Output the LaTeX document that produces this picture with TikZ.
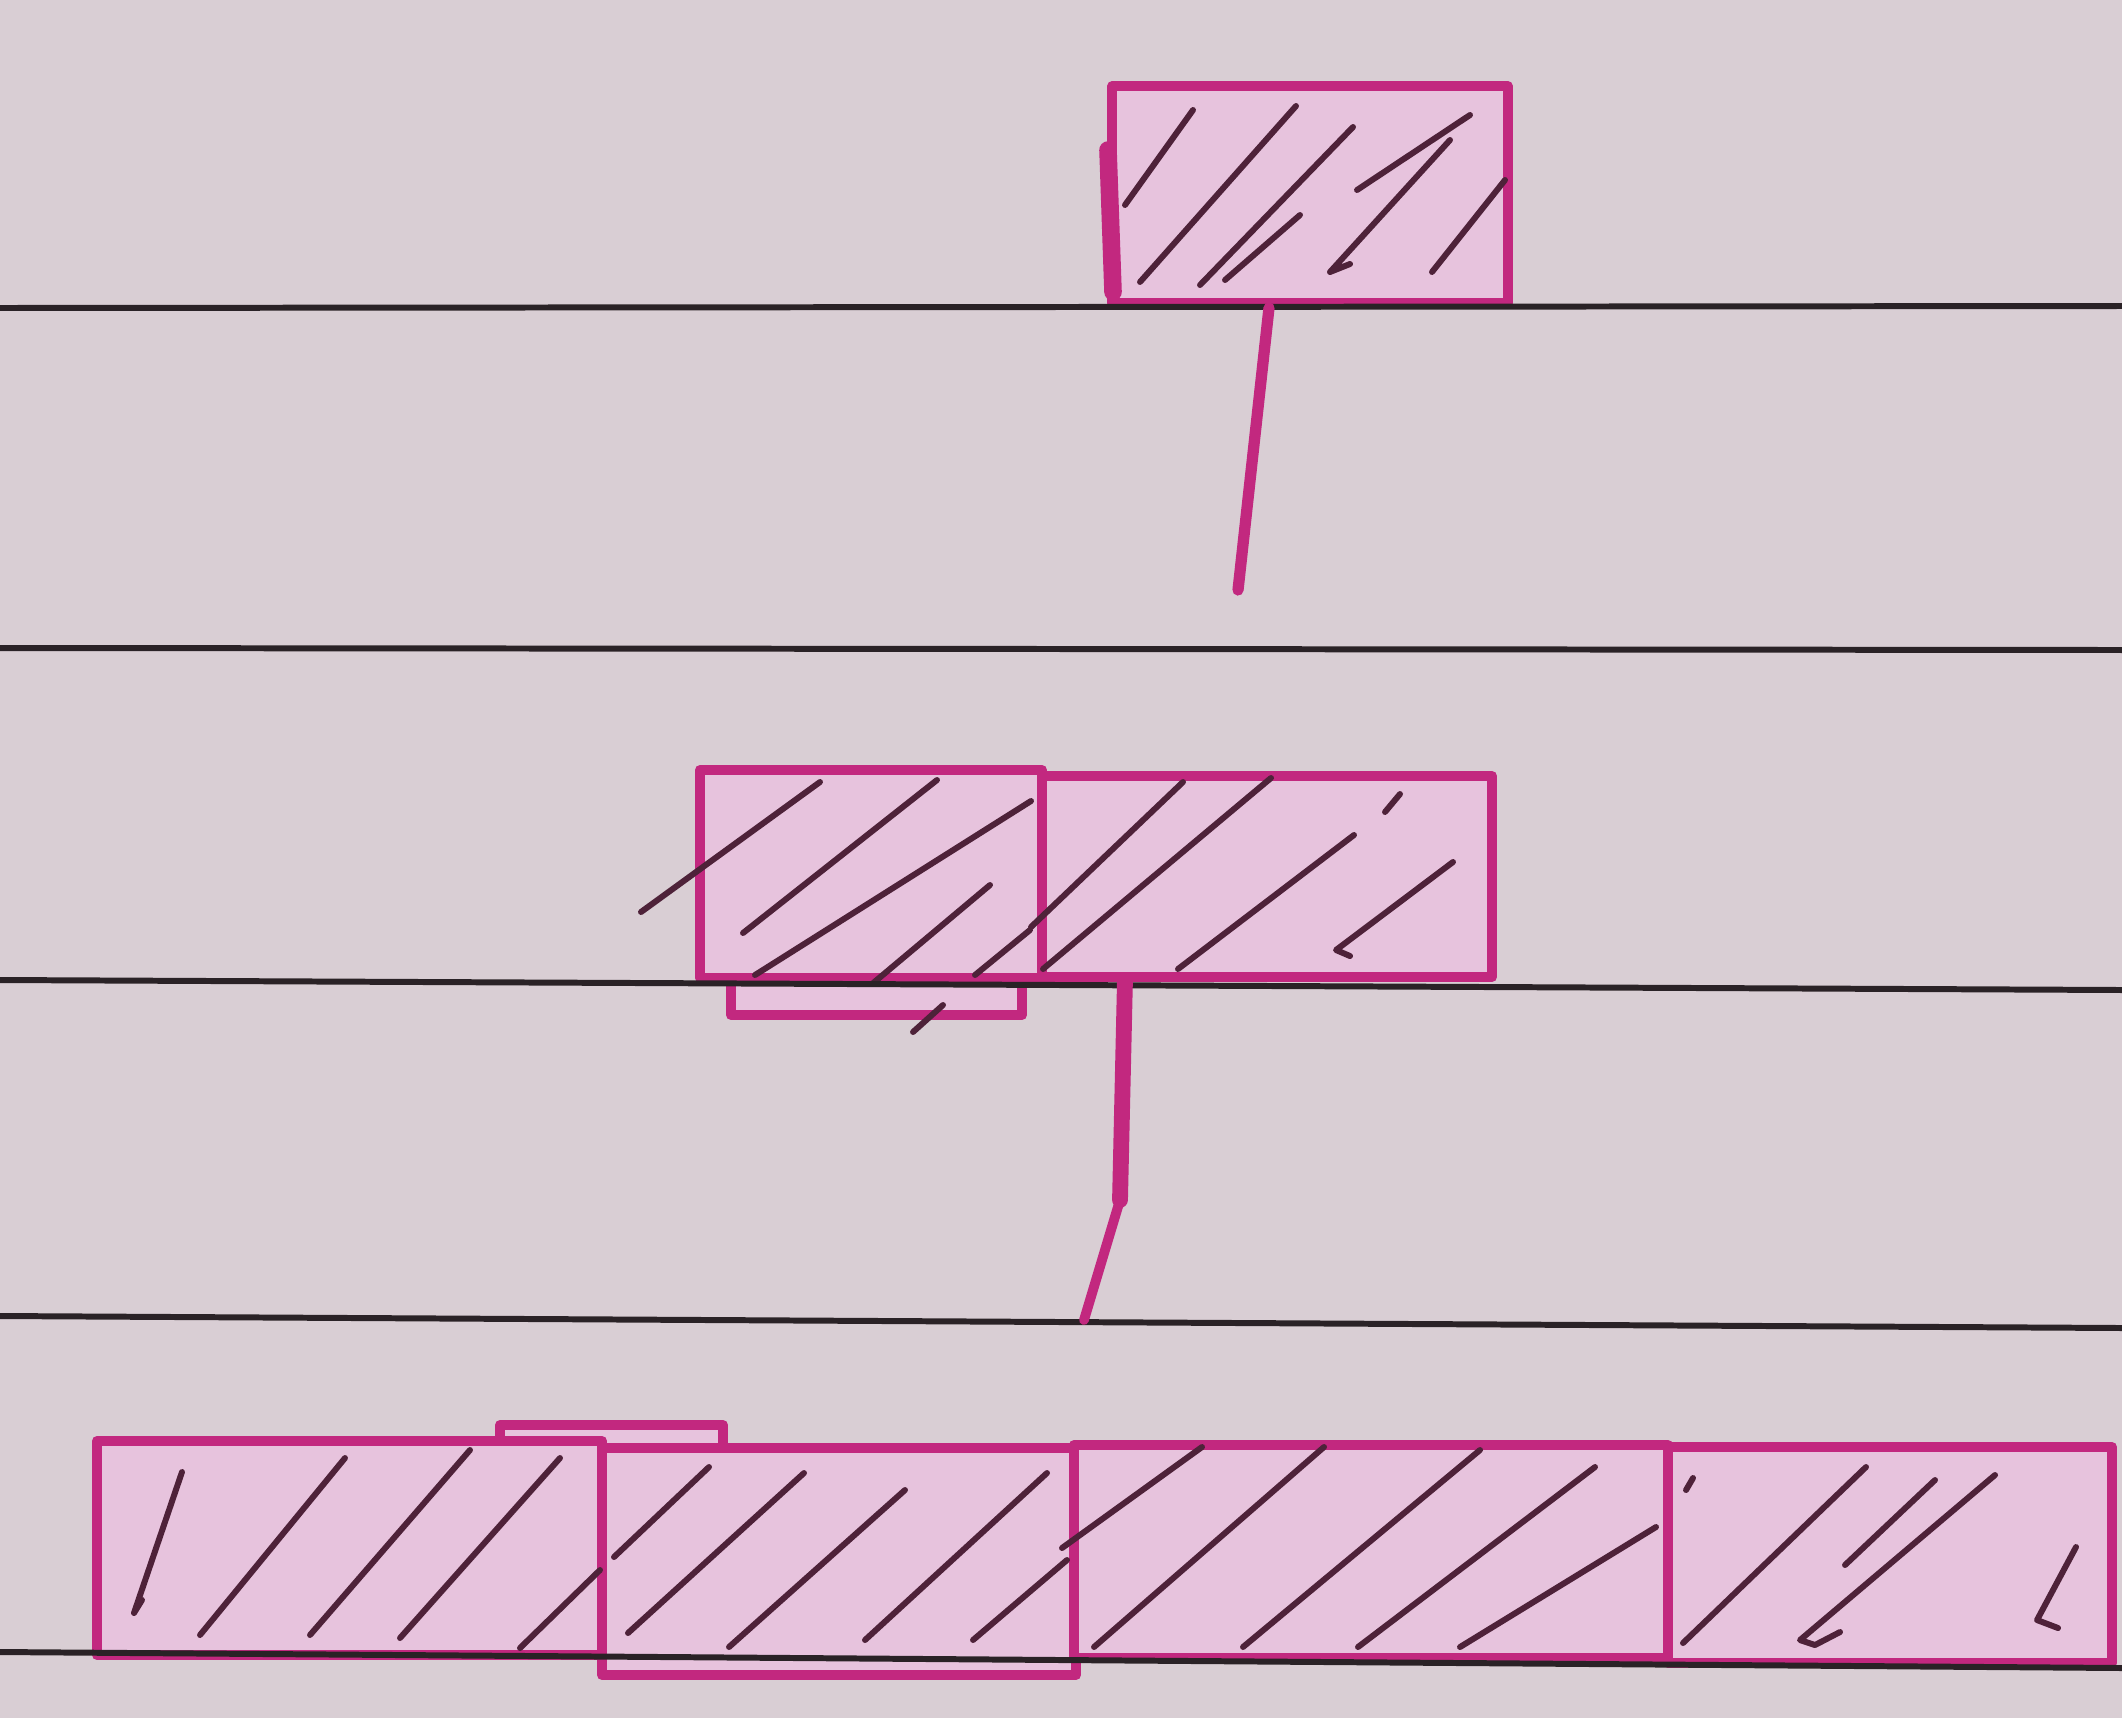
\documentclass[tikz,border=0pt]{standalone}
\definecolor{paper}{HTML}{D9CED4}
\definecolor{boxfill}{HTML}{E7C3DD}
\definecolor{pen}{HTML}{C2287F}
\definecolor{ink}{HTML}{4E2239}
\definecolor{rulecol}{HTML}{2A2226}
\tikzset{
  box/.style={draw=pen, fill=boxfill, line width=2.8pt, rectangle, inner sep=0pt, line join=round},
  hatchline/.style={draw=ink, line width=1.7pt, line cap=round, line join=round},
  stem/.style={draw=pen, line width=3.2pt, line cap=round},
  ruled/.style={draw=rulecol, line width=1.7pt}
}
\begin{document}
\begin{tikzpicture}[x=0.01cm,y=-0.01cm]
\fill[paper] (0,0) rectangle (2122,1718);
\useasboundingbox (0,0) rectangle (2122,1718);

% ---- top box ----
\node[box, minimum width=3.95cm, minimum height=2.17cm] (T) at (1310,194.5) {};
\draw[pen, line width=5pt, line cap=round] (1108,150) -- (1113,292);
\draw[hatchline] (1125,205) -- (1193,110);
\draw[hatchline] (1140,282) -- (1296,106);
\draw[hatchline] (1200,285) -- (1353,127);
\draw[hatchline] (1225,280) -- (1300,215);
\draw[hatchline] (1350,264) -- (1330,272) -- (1450,140);
\draw[hatchline] (1357,190) -- (1470,115);
\draw[hatchline] (1432,272) -- (1505,180);

% ---- middle boxes ----
\node[box, minimum width=2.91cm, minimum height=0.43cm] (MLfoot) at (876.5,993.5) {};
\node[box, minimum width=3.42cm, minimum height=2.08cm] (ML) at (871,874) {};
\node[box, minimum width=4.50cm, minimum height=2.01cm] (MR) at (1267,876.5) {};
\draw[hatchline] (641,912) -- (820,782);
\draw[hatchline] (743,933) -- (937,780);
\draw[hatchline] (755,975) -- (1031,801);
\draw[hatchline] (872,984) -- (990,885);
\draw[hatchline] (975,975) -- (1030,930);
\draw[hatchline] (913,1032) -- (943,1005);
\draw[hatchline] (1031,927) -- (1183,782);
\draw[hatchline] (1043,969) -- (1271,778);
\draw[hatchline] (1178,969) -- (1354,835);
\draw[hatchline] (1350,956) -- (1336,950) -- (1453,862);
\draw[hatchline] (1400,794) -- (1385,812);

% ---- bottom boxes ----
\node[box, minimum width=2.23cm, minimum height=0.30cm] (bump) at (611.5,1440) {};
\node[box, minimum width=5.05cm, minimum height=2.14cm] (B1) at (349.5,1548) {};
\node[box, minimum width=4.74cm, minimum height=2.27cm] (B2) at (839,1561.5) {};
\node[box, minimum width=5.94cm, minimum height=2.13cm] (B3) at (1371,1551.5) {};
\node[box, minimum width=4.44cm, minimum height=2.16cm] (B4) at (1890,1555) {};
% B1
\draw[hatchline] (142,1600) -- (134,1613) -- (182,1472);
\draw[hatchline] (200,1635) -- (345,1458);
\draw[hatchline] (310,1635) -- (470,1450);
\draw[hatchline] (400,1638) -- (560,1458);
\draw[hatchline] (520,1648) -- (600,1570);
% B2
\draw[hatchline] (614,1557) -- (709,1467);
\draw[hatchline] (628,1633) -- (804,1473);
\draw[hatchline] (729,1647) -- (905,1490);
\draw[hatchline] (865,1640) -- (1047,1473);
\draw[hatchline] (973,1640) -- (1067,1560);
% B3
\draw[hatchline] (1062,1548) -- (1202,1447);
\draw[hatchline] (1094,1647) -- (1324,1447);
\draw[hatchline] (1243,1647) -- (1480,1450);
\draw[hatchline] (1358,1647) -- (1595,1467);
\draw[hatchline] (1460,1647) -- (1656,1527);
\draw[hatchline] (1686,1490) -- (1693,1478);
% B4
\draw[hatchline] (1683,1643) -- (1866,1467);
\draw[hatchline] (1840,1632) -- (1815,1645) -- (1800,1640) -- (1995,1475);
\draw[hatchline] (1845,1565) -- (1935,1480);
\draw[hatchline] (2058,1628) -- (2037,1620) -- (2076,1547);

% ---- ruled lines ----
\draw[ruled] (0,308) -- (2122,306);
\draw[ruled] (0,648) -- (2122,650);
\draw[ruled] (0,980) -- (2122,990);
\draw[ruled] (0,1316) -- (2122,1328);
\draw[ruled] (0,1652) -- (2122,1668);

% ---- stems ----
\coordinate (s1) at (1238,590);
\draw[stem] ([xshift=-0.41cm]T.south) -- (s1);
\coordinate (s2a) at (1120,1200);
\coordinate (s2) at (1084,1320);
\draw[stem, line width=4.5pt] ([xshift=-1.42cm]MR.south) -- (s2a);
\draw[stem, line width=2.8pt] (s2a) -- (s2);
\end{tikzpicture}
\end{document}
